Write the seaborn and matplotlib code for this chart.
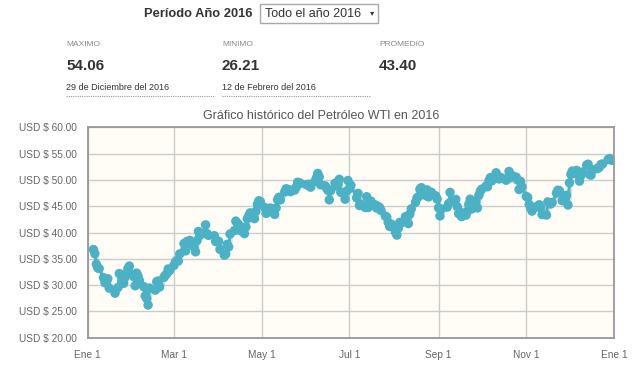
import matplotlib
matplotlib.use("Agg")
import matplotlib.pyplot as plt
import matplotlib.patheffects as pe
from matplotlib.patches import Rectangle
from matplotlib.lines import Line2D
import seaborn as sns
import pandas as pd

# ---- data: (day of month, WTI price USD) per month of 2016 ----
ene = [(5, 36.76), (6, 35.97), (7, 33.97), (8, 33.27), (9, 33.16), (12, 31.41), (13, 30.44),
       (14, 30.48), (15, 31.20), (16, 29.42), (20, 28.46), (22, 29.53), (23, 32.19), (26, 30.34),
       (27, 31.45), (28, 32.30), (29, 33.22), (30, 33.62)]
feb = [(2, 31.62), (3, 29.88), (4, 32.28), (5, 31.72), (6, 30.89), (9, 29.69), (10, 27.94),
       (11, 27.45), (12, 26.21), (13, 29.44), (17, 29.04), (18, 30.66), (19, 30.77), (20, 29.64),
       (23, 31.48), (24, 31.87), (25, 32.15), (26, 33.07), (27, 32.78)]
mar = [(1, 33.75), (2, 34.40), (3, 34.66), (4, 34.57), (5, 35.92), (8, 37.90), (9, 36.50),
       (10, 38.29), (11, 37.84), (12, 38.50), (15, 37.18), (16, 36.34), (17, 38.46), (18, 40.20),
       (19, 39.44), (22, 39.91), (23, 41.45), (24, 39.79), (25, 39.46), (29, 39.39), (30, 38.28),
       (31, 38.32)]
abr = [(1, 38.34), (2, 36.79), (5, 35.70), (6, 35.89), (7, 37.75), (8, 37.26), (9, 39.72),
       (12, 40.36), (13, 42.17), (14, 41.76), (15, 41.50), (16, 40.36), (19, 39.78), (20, 41.08),
       (21, 42.63), (22, 43.18), (23, 43.73), (26, 42.64), (27, 44.04), (28, 45.33), (29, 46.03),
       (30, 45.92)]
may = [(3, 44.78), (4, 43.65), (5, 43.78), (6, 44.32), (7, 44.66), (10, 43.44), (11, 44.66),
       (12, 46.23), (13, 46.70), (14, 46.21), (17, 47.72), (18, 48.31), (19, 48.19), (20, 48.16),
       (21, 47.75), (24, 48.08), (25, 48.62), (26, 49.56), (27, 49.48), (28, 49.33)]
jun = [(1, 49.10), (2, 49.01), (3, 49.17), (4, 48.62), (7, 49.69), (8, 50.36), (9, 51.23),
       (10, 50.56), (11, 49.07), (14, 48.88), (15, 48.49), (16, 48.01), (17, 46.21), (18, 47.98),
       (21, 49.37), (22, 48.85), (23, 49.13), (24, 50.11), (25, 47.64), (28, 46.33), (29, 47.85),
       (30, 49.88)]
jul = [(1, 48.33), (2, 48.99), (6, 46.60), (7, 47.43), (8, 45.14), (9, 45.41), (12, 44.76),
       (13, 46.80), (14, 44.75), (15, 45.68), (16, 45.95), (19, 45.24), (20, 44.65), (21, 44.94),
       (22, 44.75), (23, 44.19), (26, 43.13), (27, 42.92), (28, 41.92), (29, 41.14), (30, 41.60)]
ago = [(2, 40.06), (3, 39.51), (4, 40.83), (5, 41.93), (6, 41.80), (9, 43.02), (10, 42.77),
       (11, 41.71), (12, 43.49), (13, 44.49), (16, 45.74), (17, 46.58), (18, 46.79), (19, 48.22),
       (20, 48.52), (23, 47.05), (24, 48.10), (25, 46.77), (26, 47.33), (27, 47.64), (30, 46.98),
       (31, 46.35)]
sep = [(1, 44.70), (2, 43.16), (3, 44.44), (7, 44.83), (8, 45.50), (9, 47.62), (10, 45.88),
       (13, 46.29), (14, 44.90), (15, 43.58), (16, 43.91), (17, 43.03), (20, 43.30), (21, 44.05),
       (22, 45.34), (23, 46.32), (24, 44.48), (27, 45.93), (28, 44.67), (29, 47.05), (30, 47.83)]
oct_ = [(1, 48.24), (4, 48.81), (5, 48.69), (6, 49.83), (7, 50.44), (8, 49.81), (11, 51.35),
        (12, 50.79), (13, 50.18), (14, 50.44), (15, 50.35), (18, 49.94), (19, 50.29), (20, 51.60),
        (21, 50.43), (22, 50.85), (25, 50.52), (26, 49.96), (27, 48.18), (28, 49.72), (29, 48.70)]
nov = [(1, 46.86), (2, 46.67), (3, 45.34), (4, 44.66), (5, 44.07), (8, 44.89), (9, 44.98),
       (10, 45.27), (11, 44.66), (12, 43.41), (15, 43.32), (16, 45.81), (17, 45.57), (18, 45.42),
       (19, 45.69), (22, 47.49), (23, 48.03), (24, 47.96), (26, 46.06), (29, 47.08), (30, 45.23)]
dic = [(1, 49.44), (2, 51.06), (3, 51.68), (6, 51.79), (7, 50.93), (8, 49.77), (9, 50.84),
       (10, 51.50), (13, 52.83), (14, 52.98), (15, 51.04), (16, 50.90), (17, 51.90), (20, 52.12),
       (21, 52.23), (22, 52.49), (23, 52.95), (24, 53.02), (28, 53.90), (29, 54.06), (30, 53.77),
       (31, 53.72)]

months = [ene, feb, mar, abr, may, jun, jul, ago, sep, oct_, nov, dic]
x_tick_dates = ["2016-01-01", "2016-03-01", "2016-05-01", "2016-07-01", "2016-09-01",
                "2016-11-01", "2017-01-01"]
x_tick_labels = ["Ene 1", "Mar 1", "May 1", "Jul 1", "Sep 1", "Nov 1", "Ene 1"]
y_ticks = [20, 25, 30, 35, 40, 45, 50, 55, 60]
y_tick_labels = [f"USD $ {v:.2f}" for v in y_ticks]

stats_labels = ["MAXIMO", "MINIMO", "PROMEDIO"]
stats_values = ["54.06", "26.21", "43.40"]
stats_dates = ["29 de Diciembre del 2016", "12 de Febrero del 2016", ""]

rows = []
for m, lst in enumerate(months, start=1):
    for d, v in lst:
        rows.append({"fecha": pd.Timestamp(2016, m, d), "precio": v})
df = pd.DataFrame(rows)

# ---- figure ----
sns.set_style("white")
plt.rcParams["font.family"] = ["Liberation Sans", "DejaVu Sans"]

fig = plt.figure(figsize=(6.4, 3.67), dpi=100)
ax = fig.add_axes([87.7 / 640, 1 - 337.7 / 367, (614 - 87.7) / 640, (337.7 - 127.3) / 367])
ax.set_facecolor("#fffdf6")

color = "#4bb2c5"
sns.lineplot(data=df, x="fecha", y="precio", ax=ax, color=color, linewidth=2.2,
             marker="o", markersize=6.8, markeredgewidth=0, markerfacecolor=color,
             path_effects=[pe.SimpleLineShadow(offset=(1.2, -1.2), shadow_color="k", alpha=0.12),
                           pe.Normal()])

ax.set_xlim(pd.Timestamp("2016-01-01"), pd.Timestamp("2017-01-01"))
ax.set_ylim(20, 60)
ax.set_xticks(pd.to_datetime(x_tick_dates))
ax.set_xticklabels(x_tick_labels)
ax.set_yticks(y_ticks)
ax.set_yticklabels(y_tick_labels)
ax.set_xlabel("")
ax.set_ylabel("")
ax.grid(True, color="#cccccc", linewidth=1)
ax.set_axisbelow(True)
ax.tick_params(axis="both", colors="#999999", labelcolor="#666666", labelsize=7.3,
               width=1, direction="out")
ax.tick_params(axis="x", pad=5, length=4)
ax.tick_params(axis="y", pad=3, length=5)
for s in ax.spines.values():
    s.set_visible(True)
    s.set_color("#999999")
    s.set_linewidth(1.3)

ax.set_title("Gráfico histórico del Petróleo WTI en 2016", fontsize=9.0, color="#555555",
             pad=6, x=(321 - 87.7) / (614 - 87.7))

# ---- header ----
fig.text(253 / 640, 1 - 14 / 367, "Período Año 2016", ha="right", va="center",
         fontsize=9.3, fontweight="bold", color="#333333")
fig.patches.append(Rectangle((260 / 640, 1 - 23 / 367), 118 / 640, 19 / 367,
                             transform=fig.transFigure, facecolor="white",
                             edgecolor="#a9a9a9", linewidth=1))
fig.text(265 / 640, 1 - 14 / 367, "Todo el año 2016", ha="left", va="center",
         fontsize=9.0, color="#333333")
fig.text(372 / 640, 1 - 13 / 367, "▾", ha="center", va="center", fontsize=6,
         color="#333333", family=["DejaVu Sans"])

xs = [66, 222, 379]
for x, lab, val, dt in zip(xs, stats_labels, stats_values, stats_dates):
    fig.text(x / 640, 1 - 45 / 367, lab, ha="left", va="center", fontsize=6.0,
             color="#888888")
    fig.text(x / 640, 1 - 66 / 367, val, ha="left", va="center", fontsize=11.0,
             fontweight="bold", color="#333333")
    if dt:
        fig.text(x / 640, 1 - 87 / 367, dt, ha="left", va="center", fontsize=6.5,
                 color="#333333")
        fig.lines.append(Line2D([x / 640, (x + 149) / 640], [1 - 96 / 367, 1 - 96 / 367],
                                transform=fig.transFigure, color="#999999",
                                linewidth=0.8, linestyle=(0, (1, 1))))

fig.savefig("out.png", dpi=100, facecolor="white")
